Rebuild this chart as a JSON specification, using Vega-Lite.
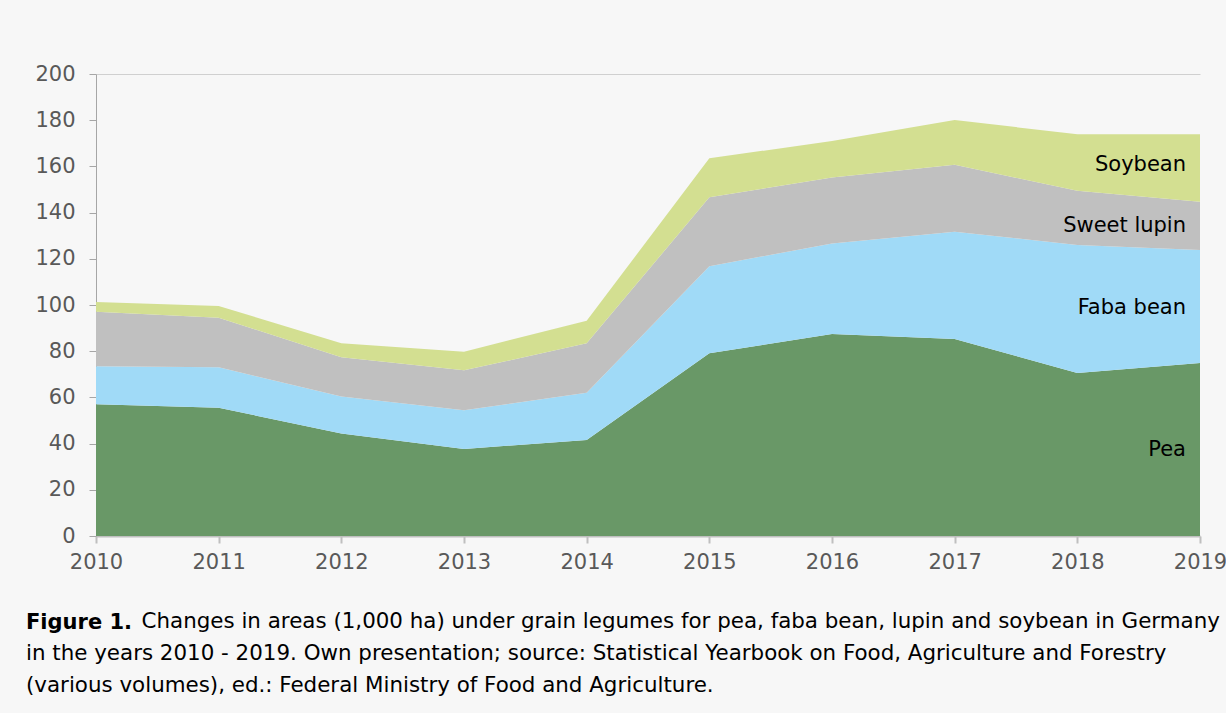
{
  "$schema": "https://vega.github.io/schema/vega-lite/v6.json",
  "width": 1104,
  "height": 462,
  "autosize": "none",
  "padding": {"left": 96, "top": 74, "right": 26, "bottom": 177},
  "background": "#f7f7f7",
  "config": {
    "view": {"stroke": null},
    "font": "DejaVu Sans"
  },
  "title": {
    "text": "Figure 1.",
    "subtitle": [
      "\u200b\u00a0\u00a0\u00a0\u00a0\u00a0\u00a0\u00a0\u00a0\u00a0\u00a0\u00a0\u00a0\u00a0\u00a0\u00a0\u00a0\u00a0Changes in areas (1,000 ha) under grain legumes for pea, faba bean, lupin and soybean in Germany",
      "in the years 2010 - 2019. Own presentation; source: Statistical Yearbook on Food, Agriculture and Forestry",
      "(various volumes), ed.: Federal Ministry of Food and Agriculture."
    ],
    "orient": "bottom",
    "anchor": "start",
    "frame": "group",
    "dx": -70,
    "offset": 40,
    "font": "DejaVu Sans",
    "fontSize": 21,
    "fontWeight": "bold",
    "color": "#000000",
    "subtitleFont": "DejaVu Sans",
    "subtitleFontSize": 21.4,
    "subtitleFontWeight": "normal",
    "subtitleColor": "#000000",
    "subtitleLineHeight": 32,
    "subtitlePadding": -22
  },
  "datasets": {
    "areas": [
      {"year": 2010, "crop": "Pea", "ord": 1, "value": 57.0},
      {"year": 2011, "crop": "Pea", "ord": 1, "value": 55.5},
      {"year": 2012, "crop": "Pea", "ord": 1, "value": 44.4},
      {"year": 2013, "crop": "Pea", "ord": 1, "value": 37.7},
      {"year": 2014, "crop": "Pea", "ord": 1, "value": 41.6},
      {"year": 2015, "crop": "Pea", "ord": 1, "value": 79.1},
      {"year": 2016, "crop": "Pea", "ord": 1, "value": 87.4},
      {"year": 2017, "crop": "Pea", "ord": 1, "value": 85.3},
      {"year": 2018, "crop": "Pea", "ord": 1, "value": 70.6},
      {"year": 2019, "crop": "Pea", "ord": 1, "value": 74.9},
      {"year": 2010, "crop": "Faba bean", "ord": 2, "value": 16.5},
      {"year": 2011, "crop": "Faba bean", "ord": 2, "value": 17.5},
      {"year": 2012, "crop": "Faba bean", "ord": 2, "value": 16.0},
      {"year": 2013, "crop": "Faba bean", "ord": 2, "value": 16.7},
      {"year": 2014, "crop": "Faba bean", "ord": 2, "value": 20.4},
      {"year": 2015, "crop": "Faba bean", "ord": 2, "value": 37.7},
      {"year": 2016, "crop": "Faba bean", "ord": 2, "value": 39.2},
      {"year": 2017, "crop": "Faba bean", "ord": 2, "value": 46.4},
      {"year": 2018, "crop": "Faba bean", "ord": 2, "value": 55.4},
      {"year": 2019, "crop": "Faba bean", "ord": 2, "value": 48.9},
      {"year": 2010, "crop": "Sweet lupin", "ord": 3, "value": 23.6},
      {"year": 2011, "crop": "Sweet lupin", "ord": 3, "value": 21.5},
      {"year": 2012, "crop": "Sweet lupin", "ord": 3, "value": 17.0},
      {"year": 2013, "crop": "Sweet lupin", "ord": 3, "value": 17.3},
      {"year": 2014, "crop": "Sweet lupin", "ord": 3, "value": 21.4},
      {"year": 2015, "crop": "Sweet lupin", "ord": 3, "value": 29.8},
      {"year": 2016, "crop": "Sweet lupin", "ord": 3, "value": 28.6},
      {"year": 2017, "crop": "Sweet lupin", "ord": 3, "value": 29.0},
      {"year": 2018, "crop": "Sweet lupin", "ord": 3, "value": 23.5},
      {"year": 2019, "crop": "Sweet lupin", "ord": 3, "value": 20.9},
      {"year": 2010, "crop": "Soybean", "ord": 4, "value": 4.2},
      {"year": 2011, "crop": "Soybean", "ord": 4, "value": 5.1},
      {"year": 2012, "crop": "Soybean", "ord": 4, "value": 6.0},
      {"year": 2013, "crop": "Soybean", "ord": 4, "value": 8.1},
      {"year": 2014, "crop": "Soybean", "ord": 4, "value": 9.8},
      {"year": 2015, "crop": "Soybean", "ord": 4, "value": 16.9},
      {"year": 2016, "crop": "Soybean", "ord": 4, "value": 15.8},
      {"year": 2017, "crop": "Soybean", "ord": 4, "value": 19.4},
      {"year": 2018, "crop": "Soybean", "ord": 4, "value": 24.4},
      {"year": 2019, "crop": "Soybean", "ord": 4, "value": 29.2}
    ],
    "labels": [
      {"year": 2019, "value": 160.6, "label": "Soybean"},
      {"year": 2019, "value": 134.2, "label": "Sweet lupin"},
      {"year": 2019, "value": 98.7, "label": "Faba bean"},
      {"year": 2019, "value": 37.2, "label": "Pea"}
    ]
  },
  "layer": [
    {
      "data": {"name": "areas"},
      "mark": {"type": "area", "opacity": 1},
      "encoding": {
        "x": {
          "field": "year", "type": "quantitative",
          "scale": {"domain": [2010, 2019], "nice": false, "zero": false},
          "axis": {
            "title": null, "format": "d", "values": [2010, 2011, 2012, 2013, 2014, 2015, 2016, 2017, 2018, 2019],
            "labelFontSize": 21, "labelColor": "#595959", "labelFont": "DejaVu Sans",
            "labelFlush": false, "labelPadding": 8,
            "domainColor": "#bfbfbf", "domainWidth": 2,
            "tickColor": "#bfbfbf", "tickSize": 7, "tickWidth": 2,
            "grid": false
          }
        },
        "y": {
          "field": "value", "type": "quantitative", "stack": "zero",
          "scale": {"domain": [0, 200], "nice": false},
          "axis": {
            "title": null, "values": [0, 20, 40, 60, 80, 100, 120, 140, 160, 180, 200],
            "labelFontSize": 21, "labelColor": "#595959", "labelFont": "DejaVu Sans",
            "labelPadding": 14,
            "domainColor": "#a6a6a6", "domainWidth": 1,
            "tickColor": "#a6a6a6", "tickSize": 7,
            "grid": true, "gridColor": "#d0d0d0",
            "gridOpacity": {"expr": "datum.value == 200 ? 1 : 0"}
          }
        },
        "color": {
          "field": "crop", "type": "nominal",
          "scale": {
            "domain": ["Pea", "Faba bean", "Sweet lupin", "Soybean"],
            "range": ["#699867", "#a0daf7", "#c0c0c0", "#d3df91"]
          },
          "legend": null
        },
        "order": {"field": "ord", "type": "quantitative"}
      }
    },
    {
      "data": {"name": "labels"},
      "mark": {"type": "text", "align": "right", "baseline": "middle", "dx": -14, "fontSize": 21, "font": "DejaVu Sans", "color": "#000000"},
      "encoding": {
        "x": {"field": "year", "type": "quantitative"},
        "y": {"field": "value", "type": "quantitative"},
        "text": {"field": "label"}
      }
    }
  ]
}
